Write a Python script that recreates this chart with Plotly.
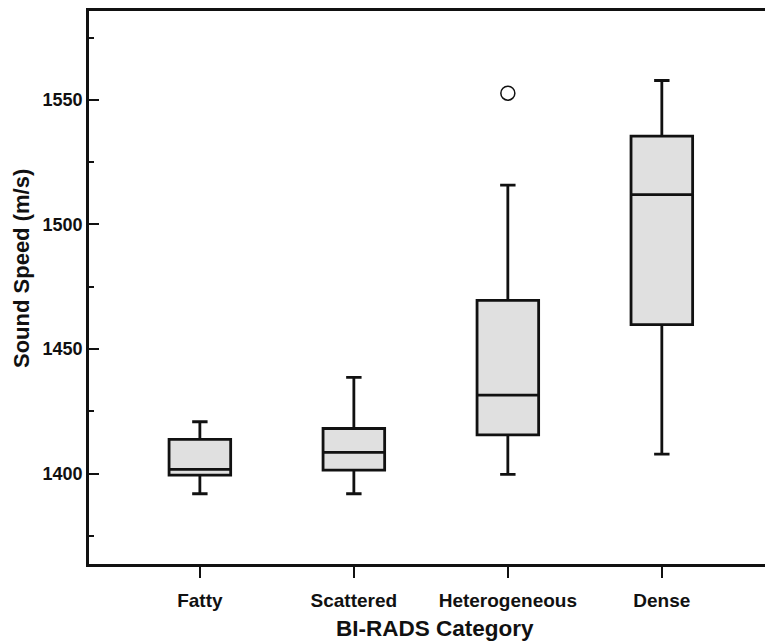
import plotly.graph_objects as go

categories = ["Fatty", "Scattered", "Heterogeneous", "Dense"]
lower_whisker = [1391.9, 1391.9, 1399.7, 1407.8]
q1_values = [1399.4, 1401.4, 1415.5, 1459.8]
median_values = [1401.7, 1408.5, 1431.5, 1512.0]
q3_values = [1413.7, 1418.1, 1469.5, 1535.5]
upper_whisker = [1420.8, 1438.6, 1515.8, 1557.8]
outlier_category = ["Heterogeneous"]
outlier_values = [1552.7]

y_tick_vals = [1400, 1450, 1500, 1550]

FONT = "Liberation Sans, Arial, sans-serif"

fig = go.Figure()
fig.add_trace(go.Box(
    x=categories,
    q1=q1_values,
    median=median_values,
    q3=q3_values,
    lowerfence=lower_whisker,
    upperfence=upper_whisker,
    fillcolor="#e0e0e0",
    line=dict(color="#111111", width=2.8),
    width=0.4,
    whiskerwidth=0.25,
    boxpoints=False,
    showlegend=False,
    hoverinfo="skip",
))
fig.add_trace(go.Scatter(
    x=outlier_category,
    y=outlier_values,
    mode="markers",
    marker=dict(symbol="circle-open", size=14, color="#111111", line=dict(width=1.5)),
    showlegend=False,
    hoverinfo="skip",
))

fig.update_layout(
    width=765,
    height=642,
    margin=dict(l=89, r=0, t=11, b=78),
    plot_bgcolor="white",
    paper_bgcolor="white",
    font=dict(family=FONT, color="#111111"),
    xaxis=dict(
        type="category",
        categoryorder="array",
        categoryarray=categories,
        range=[-0.72, 3.67],
        showline=True,
        linewidth=2.8,
        linecolor="#111111",
        mirror=True,
        ticks="outside",
        ticklen=11,
        tickwidth=2,
        tickcolor="#111111",
        ticklabelstandoff=6,
        showgrid=False,
        zeroline=False,
        tickfont=dict(size=19, family=FONT, weight="bold", color="#111111"),
    ),
    yaxis=dict(
        range=[1363.7, 1585.7],
        tickvals=y_tick_vals,
        showline=True,
        linewidth=2.8,
        linecolor="#111111",
        ticks="inside",
        ticklen=10,
        tickwidth=2,
        tickcolor="#111111",
        showgrid=False,
        zeroline=False,
        tickfont=dict(size=18, family=FONT, weight="bold", color="#111111"),
        minor=dict(ticks="inside", dtick=25, tick0=1375, ticklen=5, tickwidth=1.5,
                   tickcolor="#111111", showgrid=False),
    ),
    annotations=[
        dict(text="BI-RADS Category", xref="paper", yref="paper", x=(435 - 89) / 676,
             y=-(628 - 564) / 553, xanchor="center", yanchor="middle", showarrow=False,
             font=dict(size=22.5, family=FONT, weight="bold", color="#111111")),
        dict(text="Sound Speed (m/s)", xref="paper", yref="paper", x=-(89 - 21) / 676,
             y=(564 - 269) / 553, xanchor="center", yanchor="middle", showarrow=False,
             textangle=-90,
             font=dict(size=22, family=FONT, weight="bold", color="#111111")),
    ],
)

fig.write_html("out.html", config={"displayModeBar": False},
               post_script="document.body.style.margin='0';document.body.style.overflow='hidden';")
